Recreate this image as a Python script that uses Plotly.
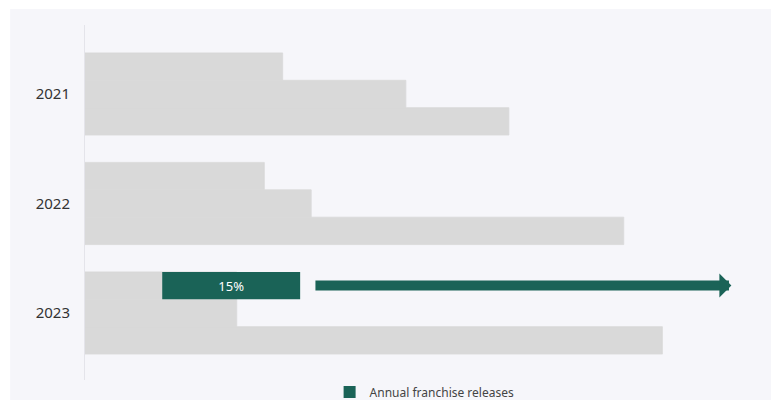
import plotly.graph_objects as go

# Franchise release data per year (three comparison bars per year)
years = ["2021", "2022", "2023"]
bar_a = [21.5, 19.5, 16.5]
bar_b = [34.9, 24.6, 16.5]
bar_c = [46.1, 58.6, 62.8]

# Highlighted share for the latest year
highlight_year = "2023"
highlight_base = 8.4
highlight_value = 15.0
highlight_label = "15%"
highlight_name = "Annual franchise releases"

# Trend arrow extent (x-axis units)
arrow_start = 24.9
arrow_end = 70.3

GREY = "#d9d9d9"
TEAL = "#1a6357"
BG = "#f6f6fa"
FONT = "Noto Sans"

fig = go.Figure()

for i, vals in enumerate([bar_a, bar_b, bar_c]):
    fig.add_trace(go.Bar(
        y=years, x=vals, orientation="h",
        marker=dict(color=GREY, line=dict(width=0.8, color=GREY)),
        offsetgroup=str(i), showlegend=False, hoverinfo="skip",
    ))

fig.add_trace(go.Bar(
    y=[highlight_year], x=[highlight_value], base=[highlight_base],
    orientation="h", offsetgroup="0", name=highlight_name,
    marker=dict(color=TEAL, line=dict(width=0)),
    text=[highlight_label], textposition="inside", insidetextanchor="middle",
    textfont=dict(color="white", size=13, family=FONT),
    showlegend=True,
))

# Position of the first bar slot inside the highlighted year's group
bargap = 0.25
n_slots = 3
slot_h = (1 - bargap) / n_slots
y_idx = years.index(highlight_year)
arrow_y = y_idx - slot_h

fig.add_annotation(
    x=arrow_end, y=arrow_y, ax=arrow_start, ay=arrow_y,
    xref="x", yref="y", axref="x", ayref="y",
    showarrow=True, arrowhead=1, arrowsize=0.4, arrowwidth=10,
    arrowcolor=TEAL, text="",
)

# Panel background with thin white border around it
fig.add_shape(
    type="rect", xref="paper", yref="paper",
    x0=-0.113, x1=1.05, y0=-0.0563, y1=1.045,
    fillcolor=BG, line=dict(width=0), layer="below",
)

fig.update_layout(
    width=771, height=401,
    margin=dict(l=85, r=24, t=25, b=21, autoexpand=False),
    paper_bgcolor="white", plot_bgcolor="rgba(0,0,0,0)",
    barmode="group", bargap=bargap, bargroupgap=0,
    font=dict(family=FONT, color="#333333"),
    showlegend=True,
    legend=dict(
        orientation="h", x=0.513, xanchor="center",
        y=0.0224, yref="container", yanchor="middle",
        font=dict(size=12, color="#444444", family=FONT),
        bgcolor="rgba(0,0,0,0)",
    ),
    xaxis=dict(range=[0, 72], showgrid=False, zeroline=False,
               showticklabels=False, showline=False, fixedrange=True),
    yaxis=dict(type="category", range=[2.612, -0.630], showgrid=False,
               zeroline=False, showline=True, linecolor="#e4e4ea", linewidth=1,
               ticks="", ticklabelstandoff=11,
               tickfont=dict(size=15, color="#333333", family=FONT)),
)

fig.write_html("out.html")
